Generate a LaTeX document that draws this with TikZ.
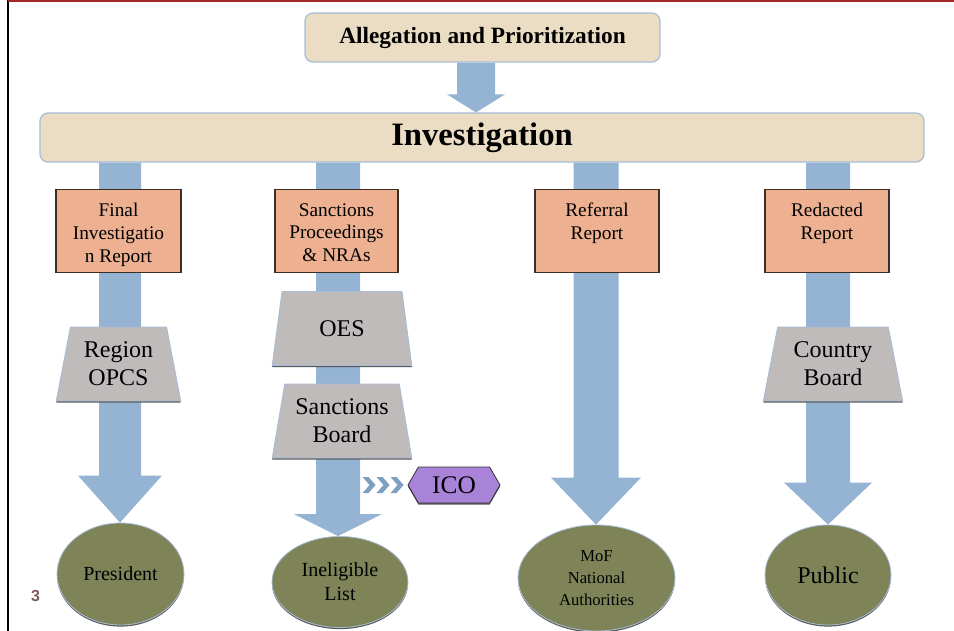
\documentclass[tikz,border=0pt]{standalone}
\usepackage{fontspec}
\setmainfont{Liberation Serif}
\newfontfamily\pnumfont{Liberation Sans}
\usetikzlibrary{shapes.geometric,shapes.symbols,shadows,calc}
\newdimen\pxu \pxu=0.75pt
\definecolor{beige}{HTML}{EADDC3}
\definecolor{boxblue}{HTML}{A5BDD8}
\definecolor{arrowc}{HTML}{95B3D3}
\definecolor{orangec}{HTML}{EDB192}
\definecolor{orangeborder}{HTML}{3B2E25}
\definecolor{grayc}{HTML}{C0BBBB}
\definecolor{olivec}{HTML}{7F8458}
\definecolor{purplec}{HTML}{A883D8}
\definecolor{chevc}{HTML}{7F9FC0}
\definecolor{pnumc}{HTML}{7D5A55}
\definecolor{topred}{HTML}{A02828}
\pgfdeclarelayer{bg}
\pgfsetlayers{bg,main}
\newcommand\blockarr[6]{%
  \fill[arrowc] ($(#1|-#2)+(-#4,0)$) -- ($(#1|-#3)+(-#4,-#6)$) -- ($(#1|-#3)+(-#5,-#6)$) -- (#1|-#3) -- ($(#1|-#3)+(#5,-#6)$) -- ($(#1|-#3)+(#4,-#6)$) -- ($(#1|-#2)+(#4,0)$) -- cycle;}
\begin{document}
\begin{tikzpicture}[x=0.75pt,y=-0.75pt,
  topbox/.style={draw=boxblue, fill=beige, line width=0.9pt, rounded corners=8\pxu, inner sep=0pt},
  repbox/.style={draw=orangeborder, fill=orangec, line width=0.8pt, minimum height=83\pxu, inner sep=0pt},
  reptext/.style={anchor=north, align=center, inner sep=0pt, font=\fontsize{14.5}{17.2}\selectfont},
  trap/.style={trapezium, trapezium left angle=77, trapezium right angle=77, trapezium stretches=true,
    minimum height=74\pxu, fill=grayc, draw=boxblue, line width=0.6pt, align=center, inner sep=0pt,
    font=\fontsize{18}{21}\selectfont,
    drop shadow={shadow xshift=0pt, shadow yshift=-1.2pt, fill=black!65, opacity=1}},
  ell/.style={ellipse, fill=olivec, draw=boxblue, line width=0.6pt, align=center, inner sep=0pt,
    drop shadow={shadow xshift=0pt, shadow yshift=-1.2pt, fill=black!65, opacity=1}},
  chev/.style={fill=chevc}
]
\useasboundingbox (0,0) rectangle (954,631);
% frame
\draw[line width=2\pxu, black] (8,0) -- (8,631);
\draw[line width=2\pxu, topred] (8,1) -- (954,1);

% column coordinates
\coordinate (ca) at (476,0);
\coordinate (c1) at (120,0);
\coordinate (c2) at (338,0);
\coordinate (c3) at (596,0);
\coordinate (c4) at (828,0);

% top boxes
\node[topbox, minimum width=355\pxu, minimum height=49\pxu, font=\bfseries\fontsize{17.5}{20}\selectfont] (alleg) at (482.5,37.5) {Allegation and Prioritization};
\node[topbox, minimum width=884\pxu, minimum height=49\pxu, font=\bfseries\fontsize{24.5}{28}\selectfont] (inv) at (482,137.5) {Investigation};

% report boxes
\node[repbox, minimum width=125\pxu] (r1) at (118.5,231) {};
\node[repbox, minimum width=123\pxu] (r2) at (336.5,231) {};
\node[repbox, minimum width=124\pxu] (r3) at (597,231) {};
\node[repbox, minimum width=124\pxu] (r4) at (827,231) {};
\node[reptext] (r1t) at ($(r1.north)+(0,14)$) {Final\\Investigatio\\n Report};
\node[reptext] (r2t) at ($(r2.north)+(0,14)$) {Sanctions\\Proceedings\\\& NRAs};
\node[reptext] (r3t) at ($(r3.north)+(0,14)$) {Referral\\Report};
\node[reptext] (r4t) at ($(r4.north)+(0,14)$) {Redacted\\Report};

% trapezoids
\node[trap, minimum width=125\pxu] (t1) at (118.5,364) {Region\\OPCS};
\node[trap, minimum width=140\pxu] (t2a) at (342,328.5) {OES};
\node[trap, minimum width=140\pxu] (t2b) at (342,421) {Sanctions\\Board};
\node[trap, minimum width=140\pxu] (t4) at (833,364) {Country\\Board};

% ellipses
\node[ell, minimum width=127\pxu, minimum height=102\pxu, font=\fontsize{15}{17}\selectfont] (pres) at (120.5,574) {President};
\node[ell, minimum width=136\pxu, minimum height=91\pxu, font=\fontsize{15}{18}\selectfont] (inel) at (340,582) {Ineligible\\List};
\node[ell, minimum width=157\pxu, minimum height=106\pxu, font=\fontsize{12.5}{16.5}\selectfont] (mof) at (596.5,578) {MoF\\National\\Authorities};
\node[ell, minimum width=126\pxu, minimum height=100\pxu, font=\fontsize{18}{20}\selectfont] (pub) at (828,575) {Public};

% ICO
\node[signal, signal to=west and east, signal pointer angle=120, fill=purplec, draw=black!80, line width=0.6pt,
  minimum width=92\pxu, minimum height=36\pxu, inner sep=0pt, font=\fontsize{19}{22}\selectfont,
  drop shadow={shadow xshift=0pt, shadow yshift=-1.2pt, fill=black!65, opacity=1}] (ico) at (454,485) {ICO};
\foreach \i in {0,1,2}
  \fill[chev] ($(ico.west)+(-45+14*\i,-8)$) -- ++(6,0) -- ++(7,8) -- ++(-7,8) -- ++(-6,0) -- ++(7,-8) -- cycle;

% page number
\node[font=\pnumfont\bfseries\fontsize{12}{14}\selectfont, text=pnumc, inner sep=0pt] (pg) at (35.5,596) {3};

% block arrows
\begin{pgfonlayer}{bg}
\blockarr{ca}{alleg.south}{inv.north}{19}{29}{18}
\blockarr{c1}{inv.south}{pres.north}{21}{42}{47}
\blockarr{c2}{inv.south}{inel.north}{22}{44}{22}
\blockarr{c3}{inv.south}{mof.north}{22.5}{45}{47}
\blockarr{c4}{inv.south}{pub.north}{22}{44}{42}
\end{pgfonlayer}
\end{tikzpicture}
\end{document}
